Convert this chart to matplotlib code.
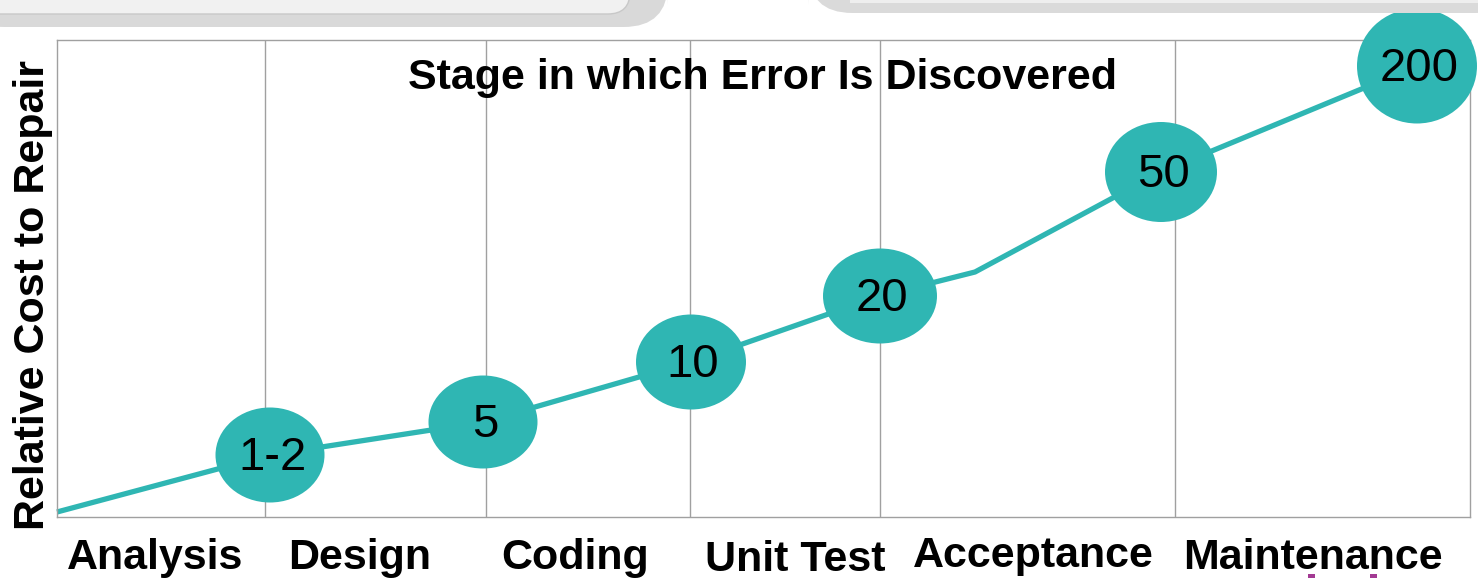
import matplotlib
matplotlib.use("Agg")
import matplotlib.pyplot as plt
from matplotlib.patches import Ellipse, FancyBboxPatch, Rectangle

plt.rcParams['font.family'] = ['Liberation Sans Narrow', 'Liberation Sans', 'DejaVu Sans']

# chart data (positions in the drawing's own units, 1 unit ~ 1 px)
stages = ["Analysis", "Design", "Coding", "Unit Test", "Acceptance", "Maintenance"]
stage_label_x = [98, 303, 518, 738, 976, 1256]
stage_label_y = [-41, -41, -41, -43, -39, -41]
stage_bounds = [208, 429, 633, 823, 1118]

cost_labels = ["1-2", "5", "10", "20", "50", "200"]
cost_x = [213, 426, 634, 823, 1104, 1360]
cost_y = [62, 95, 155, 221, 345, 451]

# the curve: starts at the box corner and bends once between 20 and 50
curve_x = [0, 213, 426, 634, 823, 918, 1104, 1360]
curve_y = [5, 62, 95, 155, 221, 245, 345, 451]

# ellipse sizes
ell_w = [109, 109, 110, 114, 112, 120]
ell_h = [95, 93, 95, 95, 100, 115]

W, H = 1478, 578
teal = "#2fb6b3"
grid_gray = "#a0a0a0"

fig = plt.figure(figsize=(W / 100, H / 100), dpi=100)
fig.patch.set_facecolor("white")


def fbox(x0, y0, x1, y1):
    # pixel box (y from top) -> figure fractions
    return x0 / W, 1 - y1 / H, (x1 - x0) / W, (y1 - y0) / H


# gray decorations at the top edge
x, y, w, h = fbox(-40, -40, 668, 27)
fig.add_artist(FancyBboxPatch((x, y), w, h, boxstyle="round,pad=0,rounding_size=0.03",
                              transform=fig.transFigure, fc="#d9d9d9", ec="none",
                              mutation_aspect=W / H))
x, y, w, h = fbox(-40, -40, 630, 14)
fig.add_artist(FancyBboxPatch((x, y), w, h, boxstyle="round,pad=0,rounding_size=0.015",
                              transform=fig.transFigure, fc="#f1f1f1", ec="#c8c8c8", lw=1,
                              mutation_aspect=W / H))
x, y, w, h = fbox(808, -40, 1520, 13)
fig.add_artist(FancyBboxPatch((x, y), w, h, boxstyle="round,pad=0,rounding_size=0.03",
                              transform=fig.transFigure, fc="#dadada", ec="none",
                              mutation_aspect=W / H))
x, y, w, h = fbox(850, -40, 1520, 3)
fig.add_artist(Rectangle((x, y), w, h, transform=fig.transFigure, fc="#eeeeee", ec="none"))

# small magenta marks at the bottom
for mx in (1308, 1370):
    x, y, w, h = fbox(mx, 574, mx + 7, 580)
    fig.add_artist(Rectangle((x, y), w, h, transform=fig.transFigure, fc="#a33a93", ec="none"))

ax = fig.add_axes([57 / W, (H - 517) / H, 1413 / W, 477 / H])
ax.set_xlim(0, 1413)
ax.set_ylim(0, 477)
ax.set_xticks([])
ax.set_yticks([])
for sp in ax.spines.values():
    sp.set_color(grid_gray)
    sp.set_linewidth(1)

for bx in stage_bounds:
    ax.axvline(bx, color=grid_gray, lw=1, zorder=1)

ax.plot(curve_x, curve_y, color=teal, lw=3.8, solid_capstyle="butt", zorder=2, clip_on=False)

for cx, cy, w, h, lab in zip(cost_x, cost_y, ell_w, ell_h, cost_labels):
    ax.add_patch(Ellipse((cx, cy), w, h, fc=teal, ec="none", zorder=3, clip_on=False))
    ax.text(cx + 2, cy - 3, lab, ha="center", va="center", fontsize=34,
            family=['Liberation Sans', 'DejaVu Sans'], color="black", zorder=4)

ax.text(705, 439, "Stage in which Error Is Discovered", ha="center", va="center",
        fontsize=31, fontweight="bold", zorder=5)

for lx, ly, name in zip(stage_label_x, stage_label_y, stages):
    ax.text(lx, ly, name, ha="center", va="center", fontsize=31, fontweight="bold",
            clip_on=False)

fig.text(33 / W, 1 - 295 / H, "Relative Cost to Repair", rotation=90, ha="center",
         va="center", fontsize=31, fontweight="bold")

fig.savefig("out.png", dpi=100)
